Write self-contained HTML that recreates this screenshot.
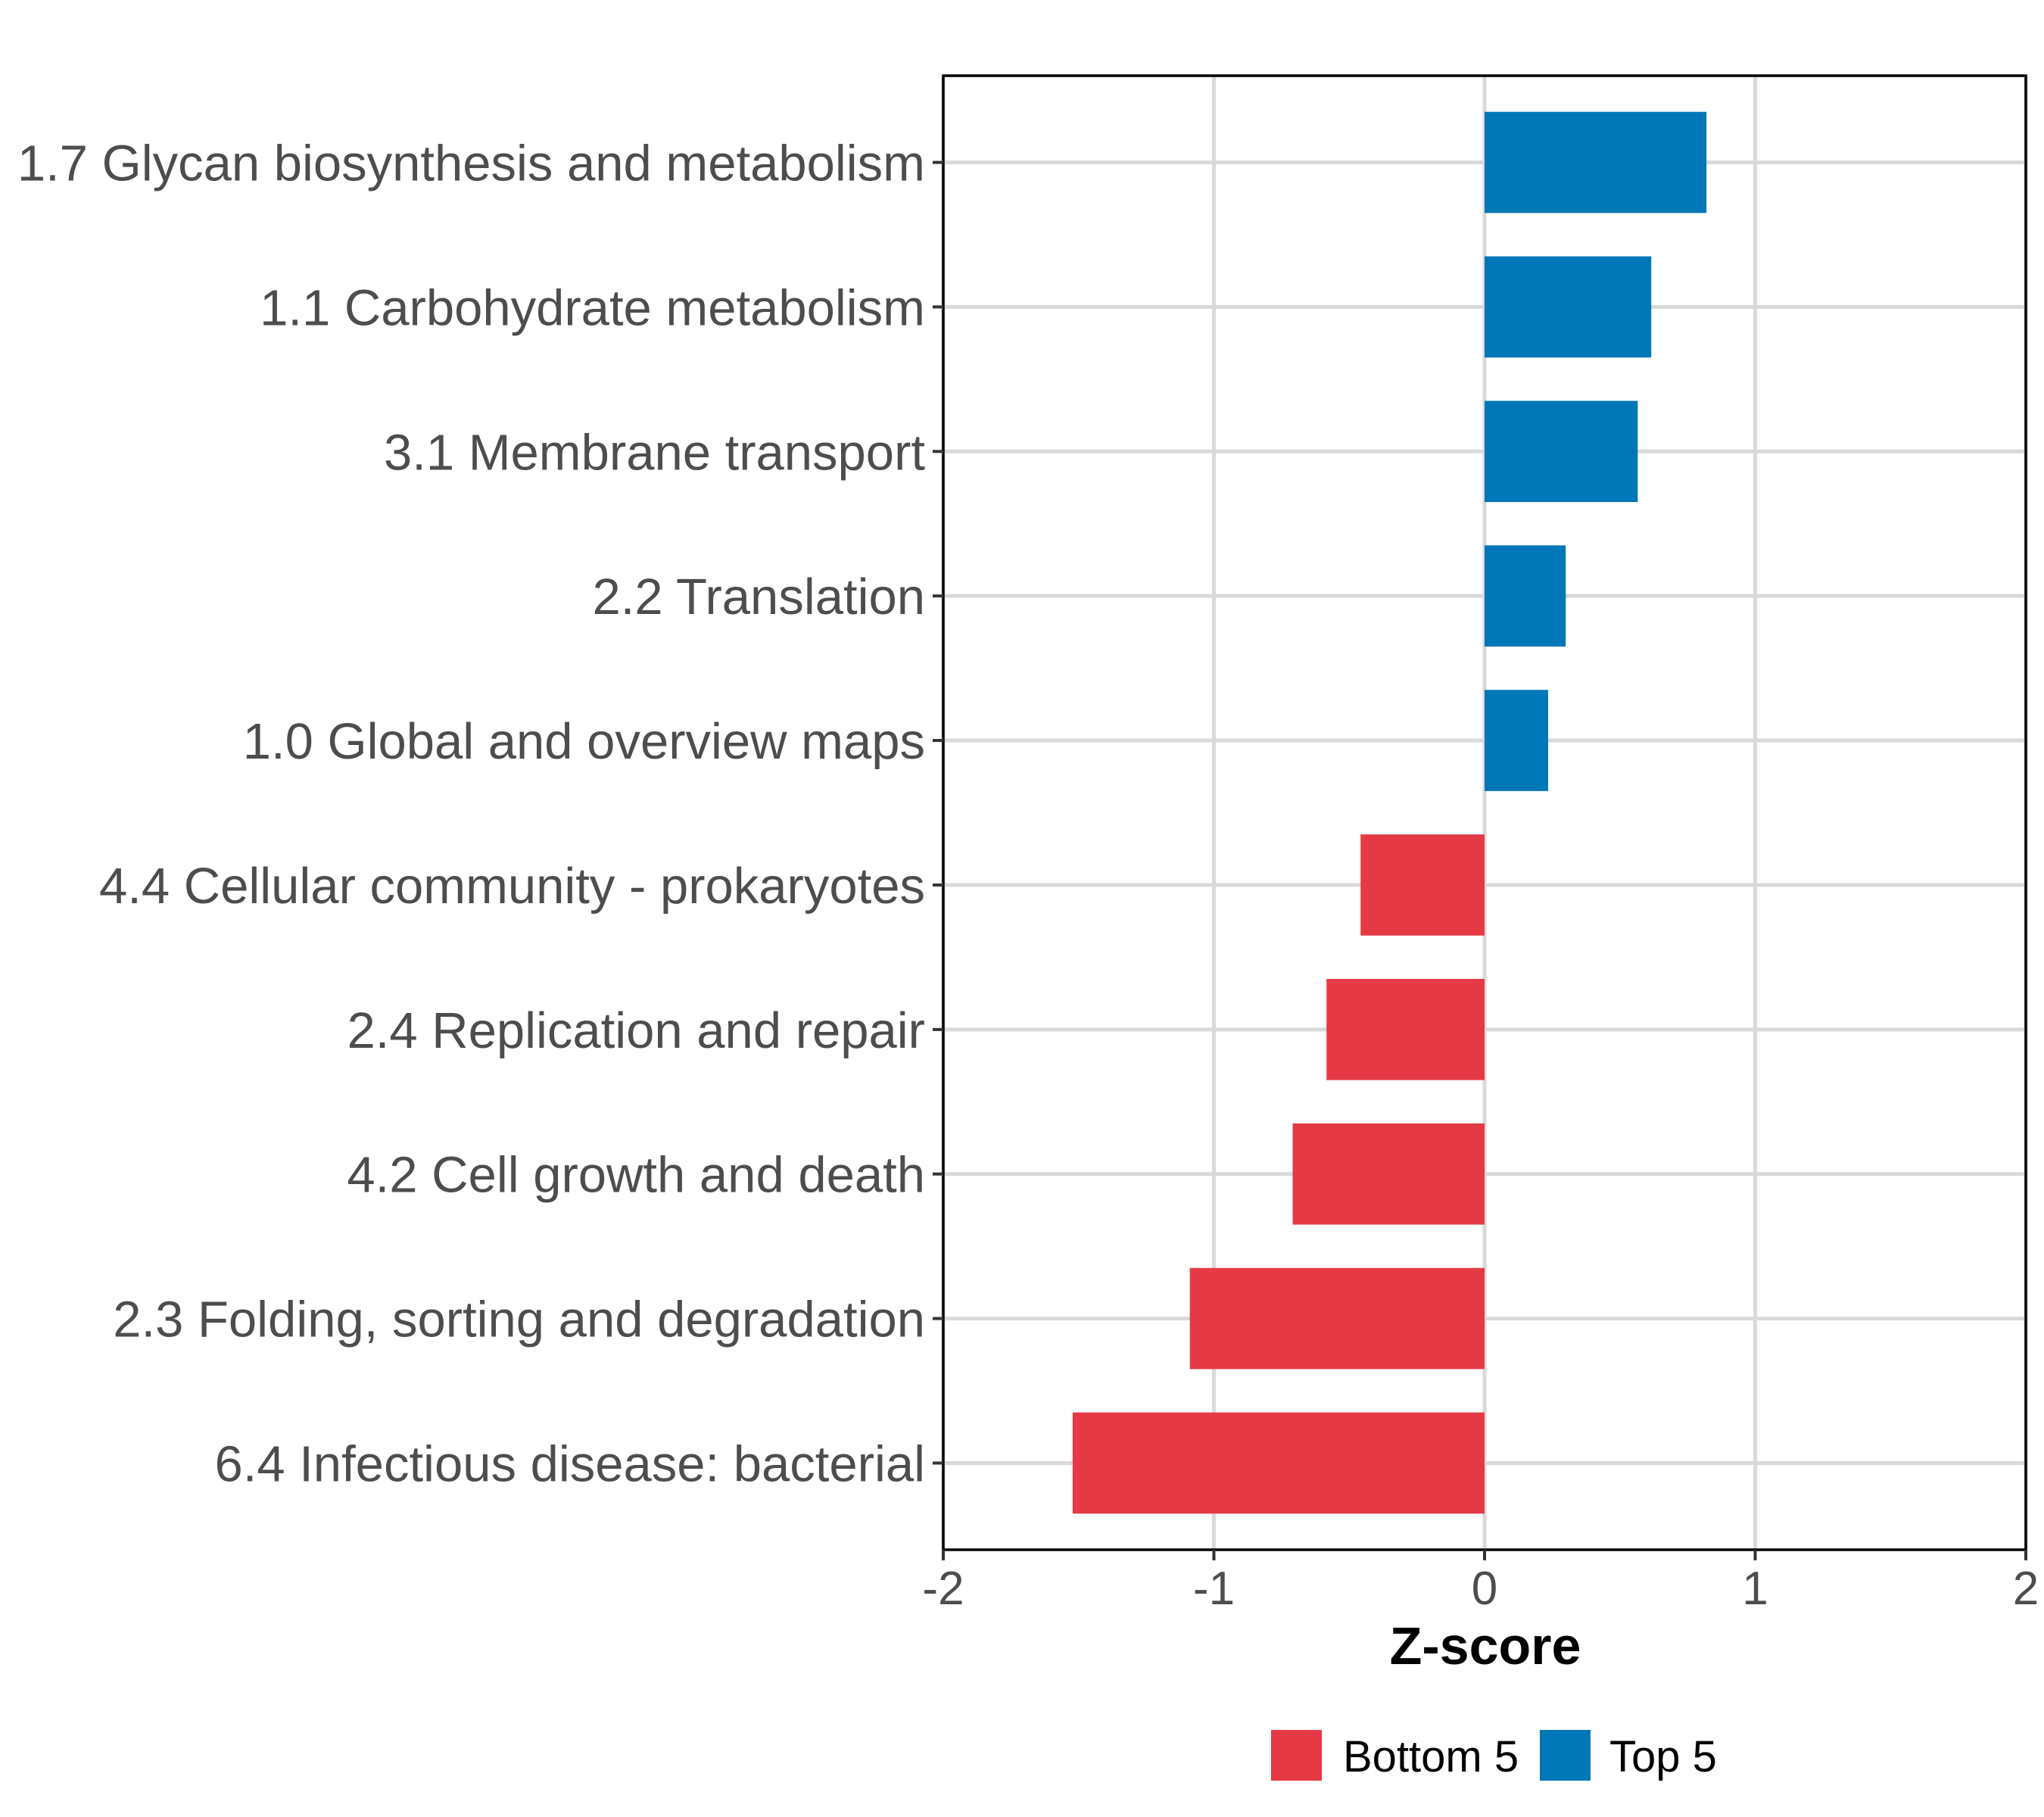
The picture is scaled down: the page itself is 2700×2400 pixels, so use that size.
<!DOCTYPE html>
<html><head><meta charset="utf-8"><style>
html,body{margin:0;padding:0;background:#fff;}
svg{display:block;font-family:"Liberation Sans",sans-serif;}
</style></head><body>
<svg id="chart" width="2700" height="2400" viewBox="0 0 2700 2400" xmlns="http://www.w3.org/2000/svg">
<rect x="0" y="0" width="2700" height="2400" fill="#fff"/>
<g id="grid"></g>
<g id="bars"></g>
<rect id="panel" fill="none" stroke="#000" stroke-width="3.5"/>
<g id="yaxis"></g>
<g id="xaxis"></g>
<text x="1962" y="2198" text-anchor="middle" font-size="70" font-weight="bold" fill="#000">Z-score</text>
<g>
  <rect x="1679" y="2285" width="67" height="67" fill="#E63946"/>
  <text x="1774" y="2340" font-size="58" fill="#000">Bottom 5</text>
  <rect x="2034" y="2285" width="67" height="67" fill="#0077B6"/>
  <text x="2126" y="2340" font-size="58" fill="#000">Top 5</text>
</g>
</svg>
<script>
const categories = ["1.7 Glycan biosynthesis and metabolism","1.1 Carbohydrate metabolism","3.1 Membrane transport","2.2 Translation","1.0 Global and overview maps","4.4 Cellular community - prokaryotes","2.4 Replication and repair","4.2 Cell growth and death","2.3 Folding, sorting and degradation","6.4 Infectious disease: bacterial"];
const zscores = [0.82, 0.616, 0.566, 0.30, 0.235, -0.458, -0.584, -0.709, -1.089, -1.522];
const groups = ["Top 5","Top 5","Top 5","Top 5","Top 5","Bottom 5","Bottom 5","Bottom 5","Bottom 5","Bottom 5"];
const xTicks = [-2, -1, 0, 1, 2];
const xTickLabels = ["-2", "-1", "0", "1", "2"];

const NS = "http://www.w3.org/2000/svg";
const L = 1246, R = 2676, T = 100, B = 2047;
const xMin = -2, xMax = 2;
function xs(v){ return L + (v - xMin) / (xMax - xMin) * (R - L); }
const n = categories.length;
const unit = (B - T) / (n - 1 + 1.2);
function ys(i){ return T + (0.6 + i) * unit; }
const colors = {"Top 5":"#0077B6","Bottom 5":"#E63946"};

function mk(tag, attrs, parent){
  const e = document.createElementNS(NS, tag);
  for (const k in attrs) e.setAttribute(k, attrs[k]);
  parent.appendChild(e);
  return e;
}
const grid = document.getElementById("grid");
const bars = document.getElementById("bars");
const yaxis = document.getElementById("yaxis");
const xaxis = document.getElementById("xaxis");

xTicks.forEach((t, i) => {
  const g = mk("line", {x1: xs(t), x2: xs(t), y1: T, y2: B, stroke: "#d9d9d9", "stroke-width": 5}, grid);
  
  
  const tk = mk("line", {x1: xs(t), x2: xs(t), y1: B, y2: B + 14, stroke: "#333", "stroke-width": 4}, xaxis);
  
  
  const lb = mk("text", {x: xs(t), y: B + 72, "text-anchor": "middle", "font-size": 62, fill: "#4d4d4d"}, xaxis);
  lb.textContent = xTickLabels[i];
  
  
});

categories.forEach((c, i) => {
  const y = ys(i);
  const g = mk("line", {x1: L, x2: R, y1: y, y2: y, stroke: "#d9d9d9", "stroke-width": 5}, grid);
  
  
  const v = zscores[i];
  const x0 = xs(0), x1 = xs(v);
  const h = 0.7 * unit;
  const r = mk("rect", {x: Math.min(x0, x1), y: y - h / 2, width: Math.abs(x1 - x0), height: h, fill: colors[groups[i]]}, bars);
  
  
  const tk = mk("line", {x1: L - 14, x2: L, y1: y, y2: y, stroke: "#333", "stroke-width": 4}, yaxis);
  
  
  const lb = mk("text", {x: L - 24, y: y + 24, "text-anchor": "end", "font-size": 67, fill: "#4d4d4d"}, yaxis);
  lb.textContent = c;
  
  
});

const p = document.getElementById("panel");
p.setAttribute("x", L); p.setAttribute("y", T);
p.setAttribute("width", R - L); p.setAttribute("height", B - T);
</script>
</body></html>
